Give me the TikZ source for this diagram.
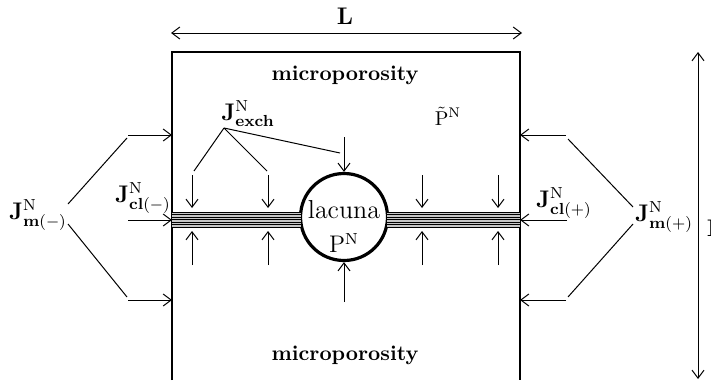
\documentclass[tikz,border=0pt]{standalone}
\usepackage{amsmath,amssymb}
\usetikzlibrary{arrows.meta, positioning, calc}
\tikzstyle{arrow} = [-{Straight Barb[length=4pt,width=6pt]}, line width=0.5pt]
\tikzstyle{dimarrow} = [{Straight Barb[length=4pt,width=6pt]}-{Straight Barb[length=4pt,width=6pt]}, line width=0.5pt]
\tikzstyle{link} = [line width=0.5pt]
\tikzstyle{flux} = [inner sep=1pt, font=\large]
\tikzstyle{region} = [inner sep=1pt, font=\fontsize{10.6}{12}\selectfont\bfseries]
\tikzstyle{pore} = [circle, draw=black, line width=1.6pt, minimum size=43.5pt, inner sep=0pt]

\begin{document}
\begin{tikzpicture}[x=0.5pt, y=-0.5pt]
        \useasboundingbox (0,0) rectangle (711,380);

        % Box
        \coordinate (bl) at (172,380);
        \coordinate (tl) at (172,52);
        \coordinate (tr) at (520,52);
        \coordinate (br) at (520,380);
        \draw[line width=0.7pt] (bl) -- (tl) -- (tr) -- (br);

        % Dimensions
        \coordinate (dl) at (171,33);
        \coordinate (dr) at (522,33);
        \draw[dimarrow] (dl) -- (dr);
        \node (lenx) [region, font=\large\bfseries] at (345,16) {L};
        \coordinate (vt) at (698,52);
        \coordinate (vb) at (698,379);
        \draw[dimarrow] (vt) -- (vb);
        \node (leny) [region, font=\large\bfseries] at (715,228) {L};

        % Regions
        \node (microtop) [region] at (345,75) {microporosity};
        \node (microbot) [region] at (345,355) {microporosity};
        \node (ptilde) at (448,116) {$\tilde{\mathrm{P}}^{\mathrm{N}}$};

        % Lacuna
        \node (lacuna) [pore] at (344,217) {};
        \node (lactext) [font=\fontsize{13}{15}\selectfont, inner sep=0pt] at (344,210) {lacuna};
        \node (plac) [font=\large, inner sep=0pt] at (344,243) {$\mathrm{P}^{\mathrm{N}}$};

        % Canaliculi
        \fill[gray!45] (172,212) rectangle (301,227);
        \fill[gray!45] (387,212) rectangle (520,227);
        \foreach \y in {212,214.5,...,227.5} {
            \draw[line width=0.45pt] (172,\y) -- (301,\y);
            \draw[line width=0.45pt] (387,\y) -- (520,\y);
        }

        % Exchange fluxes
        \foreach \x in {192,268,422,498} {
            \draw[arrow] (\x,175) -- (\x,208);
            \draw[arrow] (\x,265) -- (\x,231);
        }
        \coordinate (lactop) at (344,137);
        \coordinate (lacbot) at (344,302);
        \draw[arrow] (lactop) -- (lacuna.north);
        \draw[arrow] (lacbot) -- (lacuna.south);

        \node (jexch) [flux] at (248,114) {$\mathbf{J}^{\mathrm{N}}_{\mathbf{exch}}$};
        \coordinate (jx) at (224,128);
        \coordinate (ex1) at (194,171);
        \coordinate (ex2) at (267,171);
        \coordinate (ex3) at (340,153);
        \draw[link] (jx) -- (ex1);
        \draw[link] (jx) -- (ex2);
        \draw[link] (jx) -- (ex3);

        % Left side
        \node (jmm) [flux] at (38,215) {$\mathbf{J}^{\mathrm{N}}_{\mathbf{m(-)}}$};
        \node (jclm) [flux] at (143,198) {$\mathbf{J}^{\mathrm{N}}_{\mathbf{cl(-)}}$};
        \coordinate (lm1) at (68,204);
        \coordinate (lm2) at (68,224);
        \coordinate (la) at (127,138);
        \coordinate (lb) at (127,297);
        \draw[link] (lm1) -- (la);
        \draw[link] (lm2) -- (lb);
        \coordinate (lup) at (128,135);
        \coordinate (lmid) at (128,220);
        \coordinate (llow) at (128,300);
        \draw[arrow] (lup) -- (lup -| tl);
        \draw[arrow] (lmid) -- (lmid -| tl);
        \draw[arrow] (llow) -- (llow -| tl);

        % Right side
        \node (jmp) [flux] at (664,217) {$\mathbf{J}^{\mathrm{N}}_{\mathbf{m(+)}}$};
        \node (jclp) [flux] at (564,203) {$\mathbf{J}^{\mathrm{N}}_{\mathbf{cl(+)}}$};
        \coordinate (rm1) at (633,207);
        \coordinate (rm2) at (633,224);
        \coordinate (ra) at (568,139);
        \coordinate (rb) at (568,297);
        \draw[link] (rm1) -- (ra);
        \draw[link] (rm2) -- (rb);
        \coordinate (rup) at (566,135);
        \coordinate (rmid) at (567,220);
        \coordinate (rlow) at (566,300);
        \draw[arrow] (rup) -- (rup -| tr);
        \draw[arrow] (rmid) -- (rmid -| tr);
        \draw[arrow] (rlow) -- (rlow -| tr);
    \end{tikzpicture}
\end{document}
